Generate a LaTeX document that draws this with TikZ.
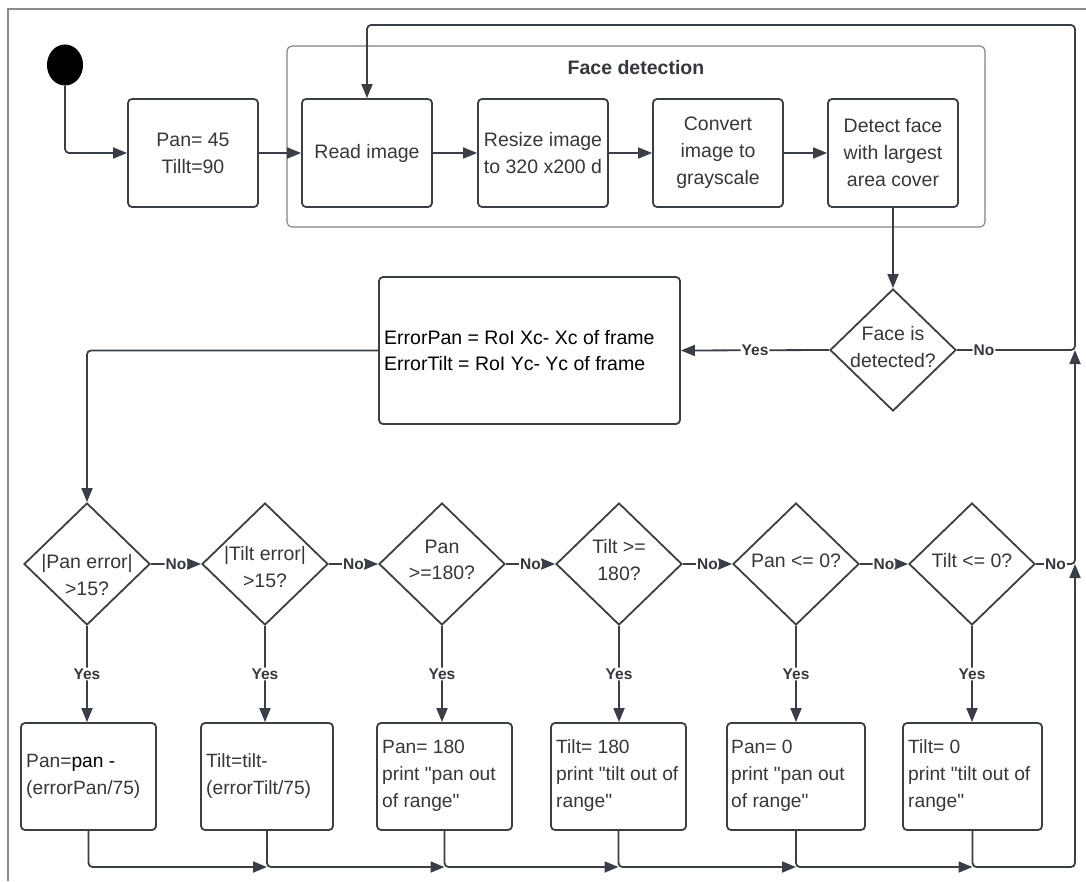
\documentclass[tikz,border=0pt]{standalone}
\usepackage{fontspec}
\setmainfont{Liberation Sans}[Ligatures=TeXOff]
\usetikzlibrary{arrows.meta,shapes.geometric,calc}
\definecolor{ink}{RGB}{58,63,71}
\definecolor{txt}{RGB}{52,55,60}
\definecolor{framec}{RGB}{140,140,140}
\definecolor{cont}{RGB}{125,129,135}
\begin{document}
\begin{tikzpicture}[x=1pt,y=-1pt,
  every node/.style={text=txt},
  box/.style={draw=ink, line width=1.8pt, rounded corners=4pt, minimum width=130pt, minimum height=108pt, inner sep=0pt, align=center, font=\fontsize{19.5}{27}\selectfont},
  dec/.style={draw=ink, line width=1.8pt, shape=diamond, minimum width=126pt, minimum height=122pt, inner sep=0pt},
  dtxt/.style={align=center, font=\fontsize{19.5}{26.5}\selectfont, inner sep=0pt},
  btxt/.style={align=left, anchor=west, font=\fontsize{19.2}{27}\selectfont, inner sep=0pt},
  conn/.style={draw=ink, line width=1.8pt, rounded corners=4pt},
  arr/.style={conn, -{Triangle[length=14pt,width=11pt]}},
  lbl/.style={font=\bfseries\fontsize{15.5}{18}\selectfont, fill=white, inner sep=1pt, text=txt}
]
\useasboundingbox (0,0) rectangle (1086,881);
\draw[draw=framec, line width=1.5pt] (8,881) -- (8,9) -- (1086,9);

% loop coordinates
\coordinate (rt) at (1075,25);
\coordinate (rm) at (1075,350);
\coordinate (rd) at (1075,564);
\coordinate (rb) at (1075,867);

% start and init
\node[draw=black, fill=black, ellipse, minimum width=35pt, minimum height=40pt, inner sep=0pt, line width=1pt] (start) at (65,65) {};
\node[box] (init) at (193,153) {Pan= 45\\Tillt=90};

% face detection group
\node[draw=cont, line width=1.1pt, rounded corners=5pt, minimum width=698pt, minimum height=181pt, inner sep=0pt] (fd) at (636,136.5) {};
\node[font=\bfseries\fontsize{19.5}{22}\selectfont, inner sep=0pt] (fdtitle) at (636,68) {Face detection};
\node[box] (read) at (367,153) {Read image};
\node[box] (resize) at (543,153) {Resize image\\to 320 x200 d};
\node[box] (convert) at (718,153) {Convert\\image to\\grayscale};
\node[box] (detect) at (893,153) {Detect face\\with largest\\area cover};

% face detected decision
\node[dec] (face) at (893,350) {};
\node[dtxt] (facet) at (893,347) {Face is\\detected?};

% error box
\node[box, minimum width=301pt, minimum height=147pt] (err) at (529.5,350.5) {};
\node[btxt, font=\fontsize{19.5}{26}\selectfont, text=black] (errt) at (384,351) {ErrorPan = RoI Xc- Xc of frame\\ErrorTilt = RoI Yc- Yc of frame};

% decisions
\node[dec] (d1) at (87,564) {};
\node[dec] (d2) at (265,564) {};
\node[dec] (d3) at (442,564) {};
\node[dec] (d4) at (619,564) {};
\node[dec] (d5) at (796,564) {};
\node[dec] (d6) at (972,564) {};
\node[dtxt] (d1t) at (87,575) {|Pan error|\\>15?};
\node[dtxt] (d2t) at (265,567) {|Tilt error|\\>15?};
\node[dtxt] (d3t) at (442,560) {Pan\\>=180?};
\node[dtxt] (d4t) at (619,560) {Tilt >=\\180?};
\node[dtxt] (d5t) at (796,561) {Pan <= 0?};
\node[dtxt] (d6t) at (972,561) {Tilt <= 0?};

% action boxes
\node[box, minimum width=135pt, minimum height=107pt] (b1) at (88.5,776.5) {};
\node[box, minimum width=132pt, minimum height=107pt] (b2) at (267,776.5) {};
\node[box, minimum width=135pt, minimum height=107pt] (b3) at (444.5,776.5) {};
\node[box, minimum width=135pt, minimum height=107pt] (b4) at (618.5,776.5) {};
\node[box, minimum width=138pt, minimum height=107pt] (b5) at (796,776.5) {};
\node[box, minimum width=139pt, minimum height=107pt] (b6) at (972.5,776.5) {};
\node[btxt] (b1t) at (26,776) {Pan=\textcolor{black}{pan -}\\(errorPan/75)};
\node[btxt] (b2t) at (206,776) {Tilt=tilt-\\(errorTilt/75)};
\node[btxt] (b3t) at (382,776) {Pan= 180\\print "pan out\\of range"};
\node[btxt] (b4t) at (556,776) {Tilt= 180\\print "tilt out of\\range"};
\node[btxt] (b5t) at (731,776) {Pan= 0\\print "pan out\\of range"};
\node[btxt] (b6t) at (908,776) {Tilt= 0\\print "tilt out of\\range"};

% connectors top
\draw[arr] (start.south) |- (init.west);
\draw[arr] (init) -- (read);
\draw[arr] (read) -- (resize);
\draw[arr] (resize) -- (convert);
\draw[arr] (convert) -- (detect);
\draw[arr] (detect) -- (face);
\draw[arr] (face.west) -- node[lbl]{Yes} (err.east);
\draw[arr] (err.west) -| (d1.north);

% decision chain
\draw[arr] (d1.east) -- node[lbl]{No} (d2.west);
\draw[arr] (d2.east) -- node[lbl]{No} (d3.west);
\draw[arr] (d3.east) -- node[lbl]{No} (d4.west);
\draw[arr] (d4.east) -- node[lbl]{No} (d5.west);
\draw[arr] (d5.east) -- node[lbl]{No} (d6.west);

% yes arrows
\draw[arr] (d1.south) -- node[lbl]{Yes} (d1.south |- b1.north);
\draw[arr] (d2.south) -- node[lbl]{Yes} (d2.south |- b2.north);
\draw[arr] (d3.south) -- node[lbl]{Yes} (d3.south |- b3.north);
\draw[arr] (d4.south) -- node[lbl]{Yes} (d4.south |- b4.north);
\draw[arr] (d5.south) -- node[lbl]{Yes} (d5.south |- b5.north);
\draw[arr] (d6.south) -- node[lbl]{Yes} (d6.south |- b6.north);

% bottom chain
\draw[arr] (b1.south) |- (b2.south |- rb);
\draw[arr] (b2.south) |- (b3.south |- rb);
\draw[arr] (b3.south) |- (b4.south |- rb);
\draw[arr] (b4.south) |- (b5.south |- rb);
\draw[arr] (b5.south) |- (b6.south |- rb);
\draw[arr] (b6.south) |- (rb) -- (rd);

% loop back
\draw[arr] (d6.east) -- node[lbl]{No} (rd) -- (rm);
\draw[arr] (face.east) -- node[lbl, pos=0.23]{No} (rm) -- (rt) -| (read.north);
\end{tikzpicture}
\end{document}
